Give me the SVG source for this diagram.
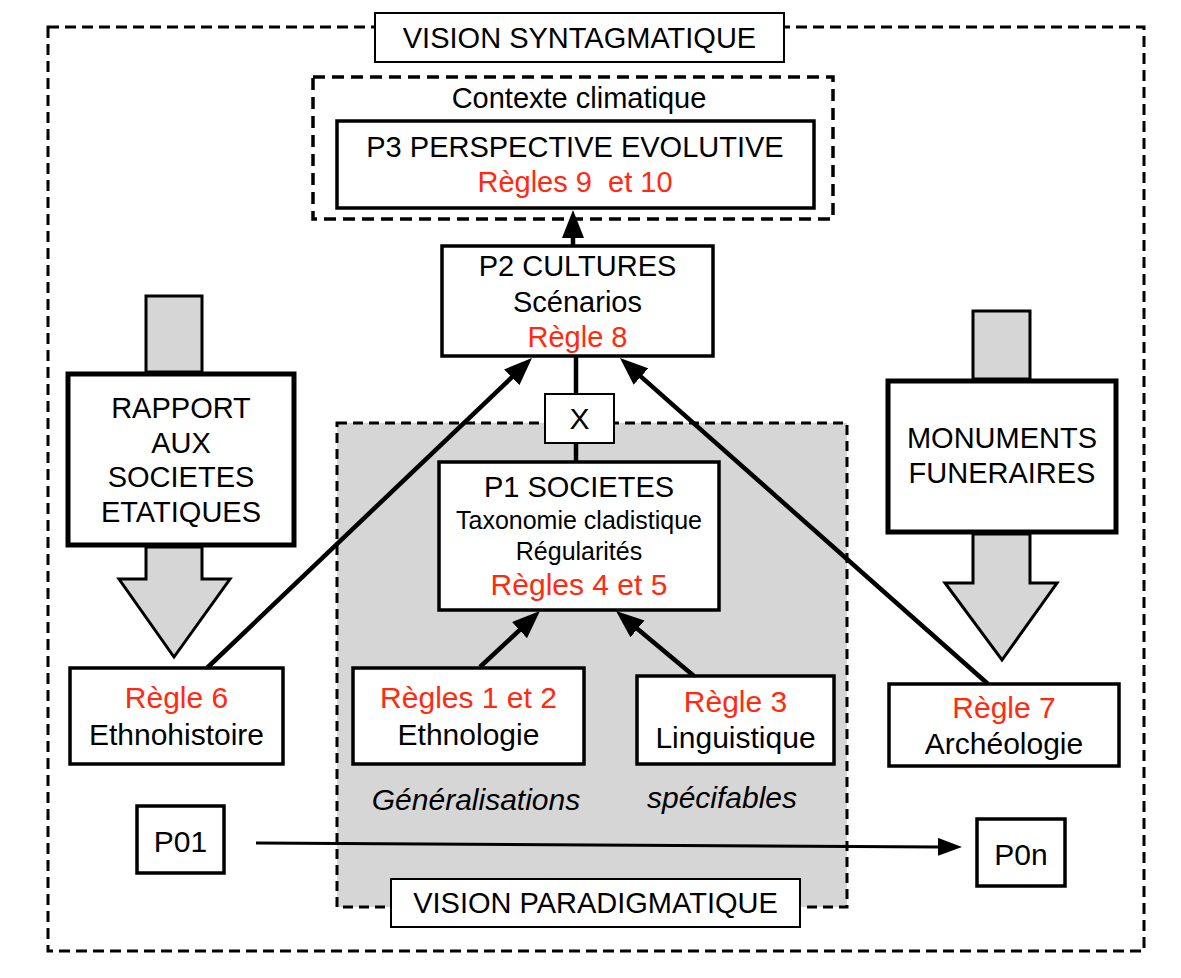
<svg xmlns="http://www.w3.org/2000/svg" width="1181" height="978" viewBox="0 0 1181 978">
<defs>
<style>
text{font-family:"Liberation Sans",Arial,Helvetica,sans-serif;text-anchor:middle;fill:#000}
.t29{font-size:29px}
.t30{font-size:30px}
.t25{font-size:25px}
.red{fill:#ff2a10}
.it{font-style:italic}
.dash{fill:none;stroke:#000;stroke-width:3;stroke-dasharray:11 6}
.box{fill:#fff;stroke:#000;stroke-width:3.5}
.thin{fill:#fff;stroke:#000;stroke-width:2}
.fat{fill:#fff;stroke:#000;stroke-width:5}
.grey{fill:#d6d6d6;stroke:#000;stroke-width:3;stroke-linejoin:miter}
.con{fill:none;stroke:#000;stroke-width:4.5}
.conthin{fill:none;stroke:#000;stroke-width:3}
</style>
<marker id="ah" viewBox="0 0 28 22" refX="3" refY="11" markerWidth="28" markerHeight="22" markerUnits="userSpaceOnUse" orient="auto">
<path d="M0,0 L28,11 L0,22 z" fill="#000"/>
</marker>
<marker id="ahs" viewBox="0 0 24 18" refX="3" refY="9" markerWidth="24" markerHeight="18" markerUnits="userSpaceOnUse" orient="auto">
<path d="M0,0 L24,9 L0,18 z" fill="#000"/>
</marker>
</defs>
<rect width="1181" height="978" fill="#fff"/>

<g id="vision-syntagmatique">
<rect class="dash" x="48" y="27" width="1096" height="924"/>
<rect class="thin" x="375" y="13" width="409" height="49"/>
<text class="t29" x="579.5" y="48">VISION SYNTAGMATIQUE</text>
</g>

<g id="vision-paradigmatique-zone">
<rect x="337" y="423" width="510" height="484" fill="#d6d6d6" stroke="#000" stroke-width="3" stroke-dasharray="10 6"/>
</g>

<g id="contexte-climatique">
<rect x="313" y="77" width="520" height="142" fill="none" stroke="#000" stroke-width="3.5" stroke-dasharray="12 7"/>
<text class="t29" x="579" y="108">Contexte climatique</text>
</g>

<g id="rapport-societes-etatiques">
<rect class="grey" x="146" y="296" width="56" height="76"/>
<polygon class="grey" points="146,547 146,579 119,579 174,657 230,579 202,579 202,547"/>
<rect class="fat" x="68" y="374" width="226" height="171"/>
<text class="t29" x="181" y="418">RAPPORT</text>
<text class="t29" x="181" y="453">AUX</text>
<text class="t29" x="181" y="487">SOCIETES</text>
<text class="t29" x="181" y="522">ETATIQUES</text>
</g>

<g id="monuments-funeraires">
<rect class="grey" x="973" y="311" width="57" height="68"/>
<polygon class="grey" points="973,534 973,583 945,583 1002,660 1057,583 1030,583 1030,534"/>
<rect class="fat" x="888" y="381" width="228" height="151"/>
<text class="t29" x="1002" y="448">MONUMENTS</text>
<text class="t29" x="1002" y="483">FUNERAIRES</text>
</g>

<g id="connectors">
<line class="con" x1="576" y1="356" x2="576" y2="462"/>
<line class="con" x1="573" y1="246" x2="573" y2="235" marker-end="url(#ah)"/>
<line class="con" x1="207" y1="668" x2="513.9" y2="375.3" marker-end="url(#ah)"/>
<line class="con" x1="988" y1="684" x2="638.7" y2="374.6" marker-end="url(#ah)"/>
<line class="con" x1="480" y1="667" x2="521.7" y2="628.1" marker-end="url(#ah)"/>
<line class="con" x1="694" y1="676" x2="635.2" y2="627" marker-end="url(#ah)"/>
<line class="conthin" x1="256" y1="843" x2="941" y2="846.9" marker-end="url(#ahs)"/>
</g>

<g id="p3">
<rect class="box" x="337" y="121" width="477" height="87"/>
<text class="t29" x="575" y="157">P3 PERSPECTIVE EVOLUTIVE</text>
<text class="t29 red" x="575" y="192" style="white-space:pre" xml:space="preserve">Règles 9  et 10</text>
</g>

<g id="p2">
<rect class="box" x="442" y="246" width="271" height="110"/>
<text class="t29" x="577.5" y="276">P2 CULTURES</text>
<text class="t29" x="577.5" y="312">Scénarios</text>
<text class="t29 red" x="577.5" y="347">Règle 8</text>
</g>

<g id="x-node">
<rect class="thin" x="545" y="394" width="69" height="49"/>
<text class="t30" x="579.5" y="429">X</text>
</g>

<g id="p1">
<rect class="box" x="439" y="462" width="280" height="148"/>
<text class="t29" x="579" y="497">P1 SOCIETES</text>
<text class="t25" x="579" y="529">Taxonomie cladistique</text>
<text class="t25" x="579" y="560">Régularités</text>
<text class="t30 red" x="579" y="595">Règles 4 et 5</text>
</g>

<g id="regle6">
<rect class="box" x="70" y="668" width="213" height="96"/>
<text class="t30 red" x="176.5" y="708">Règle 6</text>
<text class="t30" x="176.5" y="745">Ethnohistoire</text>
</g>

<g id="regles12">
<rect class="box" x="353" y="668" width="231" height="96"/>
<text class="t30 red" x="468.5" y="708">Règles 1 et 2</text>
<text class="t30" x="468.5" y="745">Ethnologie</text>
</g>

<g id="regle3">
<rect class="box" x="637" y="676" width="197" height="88"/>
<text class="t30 red" x="735.5" y="712">Règle 3</text>
<text class="t30" x="735.5" y="748">Linguistique</text>
</g>

<g id="regle7">
<rect class="box" x="889" y="684" width="230" height="82"/>
<text class="t30 red" x="1004" y="718">Règle 7</text>
<text class="t30" x="1004" y="754">Archéologie</text>
</g>

<g id="generalisations">
<text class="t30 it" x="476" y="810">Généralisations</text>
<text class="t30 it" x="722" y="808">spécifables</text>
</g>

<g id="p01">
<rect class="box" x="137" y="806" width="87" height="67"/>
<text class="t30" x="180.5" y="852">P01</text>
</g>

<g id="p0n">
<rect class="box" x="977" y="819" width="88" height="67"/>
<text class="t30" x="1021" y="865">P0n</text>
</g>

<g id="vision-paradigmatique">
<rect class="thin" x="391" y="879" width="409" height="48"/>
<text class="t29" x="595.5" y="913">VISION PARADIGMATIQUE</text>
</g>
</svg>
